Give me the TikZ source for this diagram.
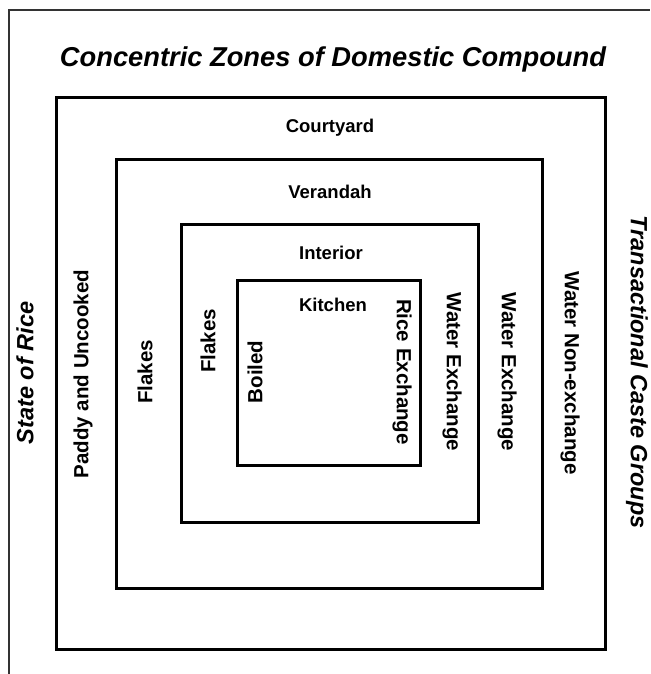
\documentclass[tikz,border=0pt]{standalone}
\usepackage{fontspec}
\setmainfont{Liberation Sans}
\begin{document}
\begin{tikzpicture}[x=1pt,y=-1pt,
  zone/.style={draw=black,line width=3pt},
  hlabel/.style={font=\fontsize{18.5}{20}\selectfont\bfseries,inner sep=0pt},
  vlabel/.style={font=\fontsize{20.5}{22}\selectfont\bfseries,inner sep=0pt},
  side/.style={font=\fontsize{23.5}{26}\selectfont\bfseries\itshape,inner sep=0pt}]
\useasboundingbox (0,0) rectangle (650,674);
\fill[white] (0,0) rectangle (650,674);
% frame
\draw[line width=1.3pt,black!80] (9,674) -- (9,10) -- (650,10);
% zones
\draw[zone] (56,98) rectangle (605,649);
\draw[zone] (116,159) rectangle (542,588);
\draw[zone] (181,224) rectangle (478,522);
\draw[zone] (237,280) rectangle (420,465);
% title
\node[font=\fontsize{27.3}{30}\selectfont\bfseries\itshape,inner sep=0pt] (title) at (333,59) {Concentric Zones of Domestic Compound};
% horizontal zone names
\node[hlabel] (court) at (330,128) {Courtyard};
\node[hlabel] (ver) at (330,192) {Verandah};
\node[hlabel] (int) at (331,253) {Interior};
\node[hlabel] (kit) at (333,305) {Kitchen};
% left vertical labels
\node[side,rotate=90] (state) at (25,373) {State of Rice};
\node[vlabel,rotate=90] (paddy) at (83,374) {Paddy and Uncooked};
\node[vlabel,rotate=90] (fl1) at (145,372) {Flakes};
\node[vlabel,rotate=90] (fl2) at (208,341) {Flakes};
\node[vlabel,rotate=90] (boil) at (255,372) {Boiled};
% right vertical labels
\node[vlabel,rotate=-90] (rice) at (402,372) {Rice Exchange};
\node[vlabel,rotate=-90] (we1) at (452,372) {Water Exchange};
\node[vlabel,rotate=-90] (we2) at (507,372) {Water Exchange};
\node[vlabel,rotate=-90] (wne) at (570,373) {Water Non-exchange};
\node[side,rotate=-90] (trans) at (637,372) {Transactional Caste Groups};
\end{tikzpicture}
\end{document}
